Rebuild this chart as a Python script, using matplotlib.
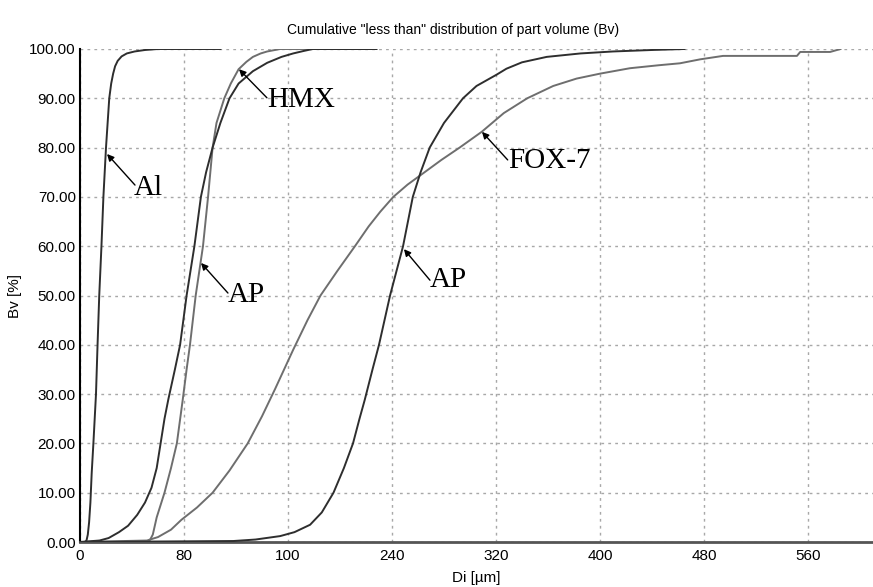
import matplotlib
matplotlib.use("Agg")
import matplotlib.pyplot as plt

# ---- data ----
al_x = [0, 3.8, 5, 6, 7, 8, 9, 10.3, 12.3, 13.5, 14.8, 16.5, 18, 20, 22.5, 24, 25.5,
        27, 29, 32, 36, 42, 50, 60, 108]
al_y = [0, 0, 0.3, 1.5, 4, 8, 14, 20, 30, 40, 50, 60, 70, 80, 90, 93, 95,
        96.5, 97.6, 98.5, 99.1, 99.5, 99.8, 100, 100]

ap1_x = [0, 15, 22, 30, 37, 44, 50, 55, 59, 62, 65, 68, 73, 77, 82, 88, 93, 97, 102,
         108, 115, 122, 133, 144, 155, 164, 172, 179, 228]
ap1_y = [0, 0.3, 0.8, 2, 3.3, 5.5, 8, 11, 15, 20, 25, 29, 35, 40, 50, 60, 70, 75, 80,
         85, 90, 93, 95.5, 97.2, 98.4, 99.1, 99.6, 100, 100]

hmx_x = [0, 51.5, 54, 56, 59, 62, 65, 70, 74.5, 79, 82, 84.6, 89, 94.6, 98.5, 102, 105,
         111, 116, 122, 128, 133, 139, 144, 150, 154, 228]
hmx_y = [0, 0, 0.5, 1.5, 5, 7.5, 10, 15, 20, 28.8, 35, 40, 50, 60, 70, 80, 85,
         90, 93, 95.9, 97.4, 98.4, 99.1, 99.5, 99.8, 100, 100]

fox_x = [0, 51.5, 60, 70, 78, 90, 102, 115, 129, 140, 150, 164, 175, 185, 198, 211.5,
         222, 231, 241, 252, 264, 278, 292, 309, 326, 344, 364, 382, 400, 423, 445,
         461.5, 477, 494.6, 551.5, 554, 577, 585]
fox_y = [0, 0.3, 1, 2.5, 4.5, 7, 10, 14.5, 20, 25.5, 31, 39, 45, 50, 55, 60,
         64, 67, 70, 72.5, 74.8, 77.5, 80, 83.2, 87, 90, 92.5, 94, 95, 96.1, 96.7,
         97.1, 97.9, 98.6, 98.6, 99.4, 99.4, 100]

ap2_x = [0, 118, 135, 154, 165, 177, 186, 195, 203, 210, 215, 219, 225, 230, 238.5,
         248.5, 256, 262, 269, 280, 294.6, 305, 320.5, 328, 340, 359, 385, 410, 440, 465]
ap2_y = [0, 0.2, 0.5, 1.2, 2, 3.5, 6, 10, 15, 20, 25, 28.8, 35, 40, 50,
         60, 70, 75, 80, 85, 90, 92.5, 94.8, 96, 97.3, 98.4, 99.1, 99.5, 99.8, 100]

x_ticks = [0, 80, 160, 240, 320, 400, 480, 560]
x_tick_labels = ["0", "80", "100", "240", "320", "400", "480", "560"]
y_ticks = [0, 10, 20, 30, 40, 50, 60, 70, 80, 90, 100]
y_tick_labels = ["%.2f" % v for v in y_ticks]

# annotation: label, arrow tip (data), arrow tail (data), text position (data)
labels = ["Al", "HMX", "AP", "AP", "FOX-7"]
tips = [(20.8, 78.7), (122.3, 95.9), (93.1, 56.6), (249.2, 59.4), (309.2, 83.2)]
tails = [(42.3, 72.4), (143.8, 90.1), (113.8, 50.5), (269.2, 53.1), (329, 77.5)]
text_pos = [(41.5, 70.4), (143.8, 88.2), (113.8, 48.7), (269.2, 51.7), (329, 75.9)]

# ---- figure ----
fig = plt.figure(figsize=(8.73, 5.87), dpi=100)
ax = fig.add_axes([80 / 873, 1 - 542 / 587, 793 / 873, (542 - 49) / 587])
plt.rcParams["font.family"] = ["Liberation Sans", "DejaVu Sans"]

dark = "#2e2e2e"
gray = "#6e6e6e"
ax.plot(fox_x, fox_y, color=gray, lw=1.4, zorder=3)
ax.plot(hmx_x, hmx_y, color=gray, lw=1.4, zorder=3)
ax.plot(ap1_x, ap1_y, color=dark, lw=1.4, zorder=4)
ax.plot(ap2_x, ap2_y, color=dark, lw=1.4, zorder=4)
ax.plot(al_x, al_y, color=dark, lw=1.4, zorder=4)

ax.set_xlim(0, 610)
ax.set_ylim(0, 100)
ax.set_xticks(x_ticks)
ax.set_xticklabels(x_tick_labels, fontfamily="Liberation Sans", fontsize=11)
ax.set_yticks(y_ticks)
ax.set_yticklabels(y_tick_labels, fontfamily="Liberation Sans", fontsize=11)
ax.tick_params(length=0, pad=3)
ax.tick_params(axis="x", pad=5)
ax.grid(True, linestyle=(0, (2, 3)), color="#a8a8a8", lw=1.0)
ax.set_axisbelow(True)

for s in ["top", "right"]:
    ax.spines[s].set_visible(False)
ax.spines["left"].set_color("black")
ax.spines["left"].set_linewidth(1.5)
ax.spines["bottom"].set_color("#555555")
ax.spines["bottom"].set_linewidth(2.0)

ax.set_title('Cumulative "less than" distribution of part volume (Bv)',
             fontfamily="Liberation Sans", fontsize=10, x=0.47, pad=11)
ax.set_xlabel("Di [µm]", fontfamily="Liberation Sans", fontsize=11, labelpad=6)
ax.set_ylabel("Bv [%]", fontfamily="Liberation Sans", fontsize=11, labelpad=5)

for lab, tip, tail, tp in zip(labels, tips, tails, text_pos):
    ax.annotate("", xy=tip, xytext=tail,
                arrowprops=dict(arrowstyle="-|>", color="black", lw=1.0,
                                mutation_scale=10, shrinkA=0, shrinkB=0),
                zorder=6)
    ax.text(tp[0], tp[1], lab, fontfamily="Liberation Serif", fontsize=21,
            ha="left", va="baseline", color="black", zorder=6)

fig.savefig("out.png", dpi=100)
